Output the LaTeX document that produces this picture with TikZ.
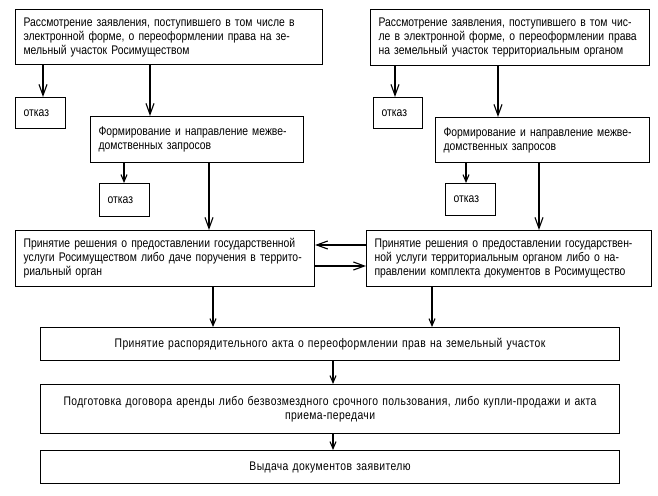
\documentclass[tikz,border=0pt]{standalone}
\usepackage{fontspec}
\setmainfont{Liberation Sans}[FakeStretch=0.83]
\newfontfamily\widefont{Liberation Sans}[FakeStretch=0.83,LetterSpace=3]
\usetikzlibrary{arrows.meta}
\begin{document}
\begin{tikzpicture}[x=1pt,y=-1pt,
  box/.style={draw,line width=1.1pt,anchor=north west,inner sep=8pt,align=left,
    font=\fontsize{12.5}{14}\selectfont},
  cbox/.style={draw,line width=1.1pt,anchor=north west,inner sep=8pt,align=center,
    font=\widefont\fontsize{12.5}{14}\selectfont},
  arr/.style={line width=1.1pt,-{Straight Barb[length=11pt,width=8pt,line width=1.1pt]}},
  sarr/.style={line width=1.1pt,-{Straight Barb[length=7pt,width=6pt,line width=1.1pt]}}]
\useasboundingbox (0,0) rectangle (658,495);
\fill[white] (0,0) rectangle (658,495);
% boxes
\node[box,minimum width=307pt,minimum height=55pt,text width=291pt] (A1) at (15,9)
  {Рассмотрение заявления, поступившего в том числе в\\электронной форме, о переоформлении права на зе-\\мельный участок Росимуществом};
\node[box,minimum width=50pt,minimum height=31pt,text width=34pt] (K1) at (15,97) {отказ};
\node[box,minimum width=213pt,minimum height=46pt,text width=197pt] (B1) at (90,116)
  {Формирование и направление межве-\\домственных запросов};
\node[box,minimum width=50pt,minimum height=33pt,text width=34pt] (K2) at (99,183) {отказ};
\node[box,minimum width=299pt,minimum height=55pt,text width=283pt] (C1) at (15,230)
  {Принятие решения о предоставлении государственной\\услуги Росимуществом либо даче поручения в террито-\\риальный орган};
\node[box,minimum width=279pt,minimum height=56pt,text width=263pt] (A2) at (370,9)
  {Рассмотрение заявления, поступившего в том чис-\\ле в электронной форме, о переоформлении права\\на земельный участок территориальным органом};
\node[box,minimum width=49pt,minimum height=31pt,text width=33pt] (K3) at (373,97) {отказ};
\node[box,minimum width=214pt,minimum height=45pt,text width=198pt] (B2) at (435,117)
  {Формирование и направление межве-\\домственных запросов};
\node[box,minimum width=50pt,minimum height=32pt,text width=34pt] (K4) at (445,183) {отказ};
\node[box,minimum width=285pt,minimum height=56pt,text width=269pt] (C2) at (366,230)
  {Принятие решения о предоставлении государствен-\\ной услуги территориальным органом либо о на-\\правлении комплекта документов в Росимущество};
\node[cbox,minimum width=579pt,minimum height=33pt,text width=563pt] (D) at (40,327)
  {Принятие распорядительного акта о переоформлении прав на земельный участок};
\node[cbox,minimum width=579pt,minimum height=49pt,text width=563pt] (E) at (40,384)
  {Подготовка договора аренды либо безвозмездного срочного пользования, либо купли-продажи и акта\\приема-передачи};
\node[cbox,minimum width=579pt,minimum height=33pt,text width=563pt] (F) at (40,450)
  {Выдача документов заявителю};
% connector x positions
\coordinate (x1) at (43,0);
\coordinate (x2) at (150,0);
\coordinate (x3) at (124,0);
\coordinate (x4) at (209,0);
\coordinate (x5) at (213,0);
\coordinate (x6) at (395,0);
\coordinate (x7) at (498,0);
\coordinate (x8) at (466,0);
\coordinate (x9) at (539,0);
\coordinate (x10) at (432,0);
\coordinate (x11) at (333,0);
\coordinate (y1) at (0,245);
\coordinate (y2) at (0,266);
% connectors
\draw[arr] (A1.south -| x1) -- (K1.north -| x1);
\draw[arr] (A1.south -| x2) -- (B1.north -| x2);
\draw[sarr] (B1.south -| x3) -- (K2.north -| x3);
\draw[arr] (B1.south -| x4) -- (C1.north -| x4);
\draw[sarr] (C1.south -| x5) -- (D.north -| x5);
\draw[arr] (A2.south -| x6) -- (K3.north -| x6);
\draw[arr] (A2.south -| x7) -- (B2.north -| x7);
\draw[sarr] (B2.south -| x8) -- (K4.north -| x8);
\draw[arr] (B2.south -| x9) -- (C2.north -| x9);
\draw[sarr] (C2.south -| x10) -- (D.north -| x10);
\draw[arr] (C2.west |- y1) -- (C1.east |- y1);
\draw[arr] (C1.east |- y2) -- (C2.west |- y2);
\draw[sarr] (D.south -| x11) -- (E.north -| x11);
\draw[sarr] (E.south -| x11) -- (F.north -| x11);
\end{tikzpicture}
\end{document}
